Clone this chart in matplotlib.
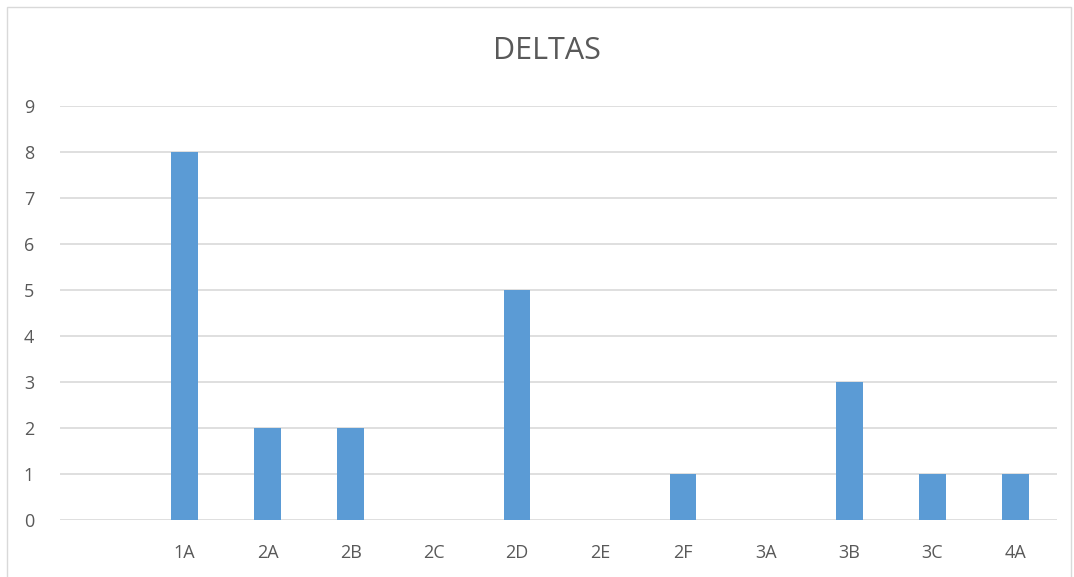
import matplotlib
matplotlib.use("Agg")
import matplotlib.pyplot as plt
from matplotlib.patches import Rectangle

# chart data
categories = ["", "1A", "2A", "2B", "2C", "2D", "2E", "2F", "3A", "3B", "3C", "4A"]
deltas = [0, 8, 2, 2, 0, 5, 0, 1, 0, 3, 1, 1]
y_ticks = list(range(0, 10))

plt.rcParams["font.family"] = ["Open Sans", "DejaVu Sans"]
text_color = "#595959"
grid_color = "#d9d9d9"

fig = plt.figure(figsize=(10.74, 5.77), dpi=100)
W, H = 1074, 577

# outer chart border like the spreadsheet frame
fig.patches.append(Rectangle((7 / W, -0.01), 1064 / W, 1 - 7 / H + 0.01,
                             transform=fig.transFigure, fill=False,
                             edgecolor=grid_color, linewidth=1))

ax = fig.add_axes([60 / W, 57 / H, 997 / W, 414 / H])

x = range(len(categories))
ax.bar(x, deltas, width=0.32, color="#5b9bd5", zorder=3)

ax.set_xlim(-0.5, len(categories) - 0.5)
ax.set_ylim(0, 9)
ax.set_yticks(y_ticks)
ax.set_xticks(list(x))
ax.set_xticklabels(categories)

ax.yaxis.grid(True, color=grid_color, linewidth=1.2, zorder=0)
for s in ax.spines.values():
    s.set_visible(False)
ax.tick_params(axis="both", length=0, labelsize=13, colors=text_color)
ax.tick_params(axis="y", pad=26)
ax.tick_params(axis="x", pad=17)
for lbl in ax.get_yticklabels():
    lbl.set_horizontalalignment("left")

fig.text(547 / W, 1 - 51 / H, "DELTAS", ha="center", va="center",
         fontsize=22, color=text_color)

fig.savefig("out.png", dpi=100)
